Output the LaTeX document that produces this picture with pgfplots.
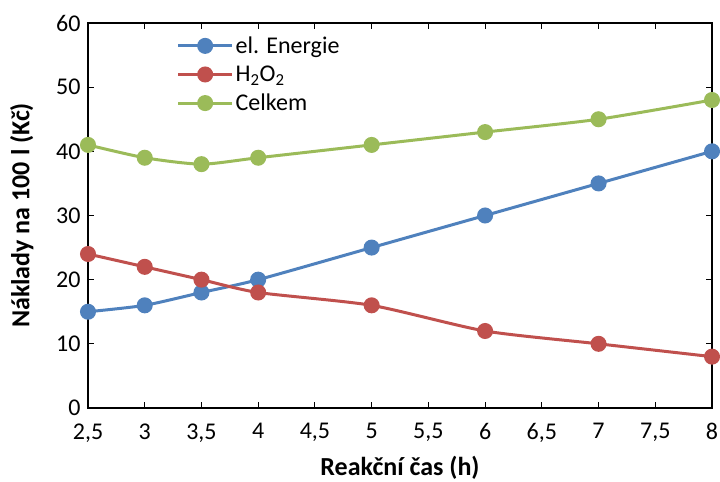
\documentclass[border=0pt]{standalone}
\usepackage{pgfplots}
\pgfplotsset{compat=1.18}
\usepackage{fontspec}
\setmainfont{Carlito}
\definecolor{cblue}{HTML}{4F81BD}
\definecolor{cred}{HTML}{C0504D}
\definecolor{cgreen}{HTML}{9BBB59}
\newcommand{\chartfont}{\fontsize{24bp}{28bp}\selectfont}
\newcommand{\labelfont}{\fontsize{26bp}{30bp}\selectfont\bfseries}
\begin{document}
\begin{tikzpicture}[x=1bp,y=1bp]
\path[use as bounding box] (0,0) rectangle (720,482);
\begin{axis}[
  at={(88bp,74bp)}, anchor=south west,
  width=624bp, height=385bp, scale only axis,
  xmin=2.5, xmax=8, ymin=0, ymax=60,
  xtick={2.5,3,...,8}, ytick={0,10,...,60},
  tick align=inside, major tick length=6bp,
  tick style={black, line width=1bp},
  axis line style={black, line width=1.2bp},
  /pgf/number format/assume math mode=true,
  /pgf/number format/use comma,
  /pgf/number format/fixed,
  ticklabel style={font=\chartfont},
  xticklabel style={yshift=-12bp},
  yticklabel style={xshift=-4bp},
  xlabel={Reakční čas (h)},
  ylabel={Náklady na 100 l (Kč)},
  label style={font=\labelfont},
  xlabel style={at={(axis description cs:0.5,-0.156)}, anchor=center},
  ylabel style={at={(axis description cs:-0.106,0.5)}, anchor=center},
  legend style={draw=none, fill=none, at={(0.137,0.975)}, anchor=north west,
    font=\chartfont, row sep=7bp,
    legend cell align=left},
  legend image code/.code={\draw[#1, mark repeat=2, mark phase=2] plot coordinates {(0bp,0bp) (27bp,0bp) (54bp,0bp)};},
  every axis plot/.append style={line width=3bp, smooth, tension=0.4,
    mark=*, mark size=6.5bp, mark options={solid}},
]
\addplot[cblue, mark options={fill=cblue, draw=cblue}] coordinates {
  (2.5,15) (3,16) (3.5,18) (4,20) (5,25) (6,30) (7,35) (8,40)};
\addlegendentry{el. Energie}
\addplot[cred, mark options={fill=cred, draw=cred}] coordinates {
  (2.5,24) (3,22) (3.5,20) (4,18) (5,16) (6,12) (7,10) (8,8)};
\addlegendentry{H\textsubscript{2}O\textsubscript{2}}
\addplot[cgreen, mark options={fill=cgreen, draw=cgreen}] coordinates {
  (2.5,41) (3,39) (3.5,38) (4,39) (5,41) (6,43) (7,45) (8,48)};
\addlegendentry{Celkem}
\end{axis}
\end{tikzpicture}
\end{document}
